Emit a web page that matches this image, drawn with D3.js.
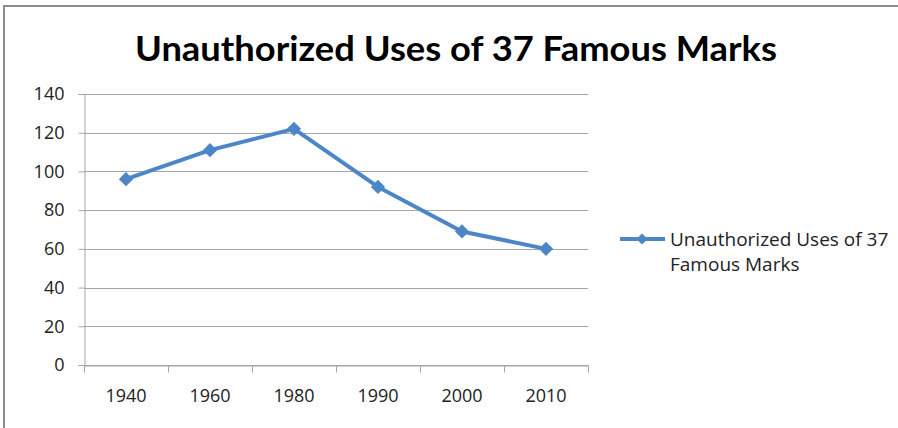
<!DOCTYPE html>
<html>
<head>
<meta charset="utf-8">
<script src="https://cdn.jsdelivr.net/npm/d3@7"></script>
<style>
  body { margin: 0; background: #fff; }
  text { font-family: Lato, "Open Sans", sans-serif; }
</style>
</head>
<body>
<div id="chart"></div>
<script>
const title = "Unauthorized Uses of 37 Famous Marks";
const years = ["1940", "1960", "1980", "1990", "2000", "2010"];
const uses = [96, 111, 122, 92, 69, 60];
const yTicks = [0, 20, 40, 60, 80, 100, 120, 140];
const seriesName = ["Unauthorized Uses of 37", "Famous Marks"];

const width = 898, height = 428;
const plot = { left: 84, right: 588, top: 94, bottom: 365 };
const blue = "#4d86c6";

const svg = d3.select("#chart").append("svg")
    .attr("width", width)
    .attr("height", height);

// chart border (runs off the right and bottom)
svg.append("rect")
    .attr("x", 4).attr("y", 6)
    .attr("width", 900).attr("height", 430)
    .attr("fill", "none")
    .attr("stroke", "#8c8c8c")
    .attr("stroke-width", 2);

svg.append("text")
    .attr("x", 456).attr("y", 61)
    .attr("text-anchor", "middle")
    .attr("font-size", 34)
    .attr("font-weight", "bold")
    .attr("textLength", 642)
    .attr("lengthAdjust", "spacingAndGlyphs")
    .attr("fill", "#000")
    .text(title);

const x = d3.scaleBand()
    .domain(years)
    .range([plot.left, plot.right]);

const y = d3.scaleLinear()
    .domain([0, 140])
    .range([plot.bottom, plot.top]);

// gridlines
svg.append("g")
    .selectAll("line")
    .data(yTicks)
    .join("line")
    .attr("x1", plot.left).attr("x2", plot.right)
    .attr("y1", d => Math.round(y(d)) + 0.5)
    .attr("y2", d => Math.round(y(d)) + 0.5)
    .attr("stroke", "#a6a6a6");

// y axis
const yAxis = svg.append("g")
    .attr("transform", `translate(${plot.left + 0.5},0)`)
    .call(d3.axisLeft(y).tickValues(yTicks).tickSize(6).tickPadding(14));
yAxis.select(".domain").attr("stroke", "#a6a6a6");
yAxis.selectAll(".tick line").attr("stroke", "#a6a6a6");
yAxis.selectAll(".tick text")
    .attr("font-size", 18)
    .attr("fill", "#222")
    .style("font-family", "'Open Sans', sans-serif");

// x axis, ticks at category boundaries
const xAxis = svg.append("g")
    .attr("transform", `translate(0,${Math.round(y(0)) + 0.5})`)
    .call(d3.axisBottom(x).tickSize(0).tickPadding(24));
xAxis.select(".domain").attr("stroke", "#a6a6a6");
xAxis.selectAll(".tick text")
    .attr("font-size", 18)
    .attr("fill", "#222")
    .style("font-family", "'Open Sans', sans-serif");
xAxis.selectAll(".bound")
    .data(years.concat(["end"]))
    .join("line")
    .attr("class", "bound")
    .attr("x1", (d, i) => Math.round(plot.left + i * x.bandwidth()) + 0.5)
    .attr("x2", (d, i) => Math.round(plot.left + i * x.bandwidth()) + 0.5)
    .attr("y1", 0).attr("y2", 7)
    .attr("stroke", "#a6a6a6");

// series line
const line = d3.line()
    .x((d, i) => x(years[i]) + x.bandwidth() / 2)
    .y(d => y(d));

svg.append("path")
    .datum(uses)
    .attr("d", line)
    .attr("fill", "none")
    .attr("stroke", blue)
    .attr("stroke-width", 4)
    .attr("stroke-linejoin", "round");

const diamond = d3.symbol().type(d3.symbolDiamond2).size(130);

svg.append("g")
    .selectAll("path")
    .data(uses)
    .join("path")
    .attr("transform", (d, i) => `translate(${x(years[i]) + x.bandwidth() / 2},${y(d)})`)
    .attr("d", diamond)
    .attr("fill", blue);

// legend
const legend = svg.append("g").attr("transform", "translate(620,239)");
legend.append("line")
    .attr("x1", 0).attr("x2", 45)
    .attr("stroke", blue)
    .attr("stroke-width", 4);
legend.append("path")
    .attr("transform", "translate(22,0)")
    .attr("d", d3.symbol().type(d3.symbolDiamond2).size(80))
    .attr("fill", blue);
legend.append("text")
    .attr("font-size", 19)
    .attr("fill", "#222")
    .style("font-family", "'Open Sans', sans-serif")
    .selectAll("tspan")
    .data(seriesName)
    .join("tspan")
    .attr("x", 50)
    .attr("y", (d, i) => 7 + i * 25)
    .text(d => d);
</script>
</body>
</html>
